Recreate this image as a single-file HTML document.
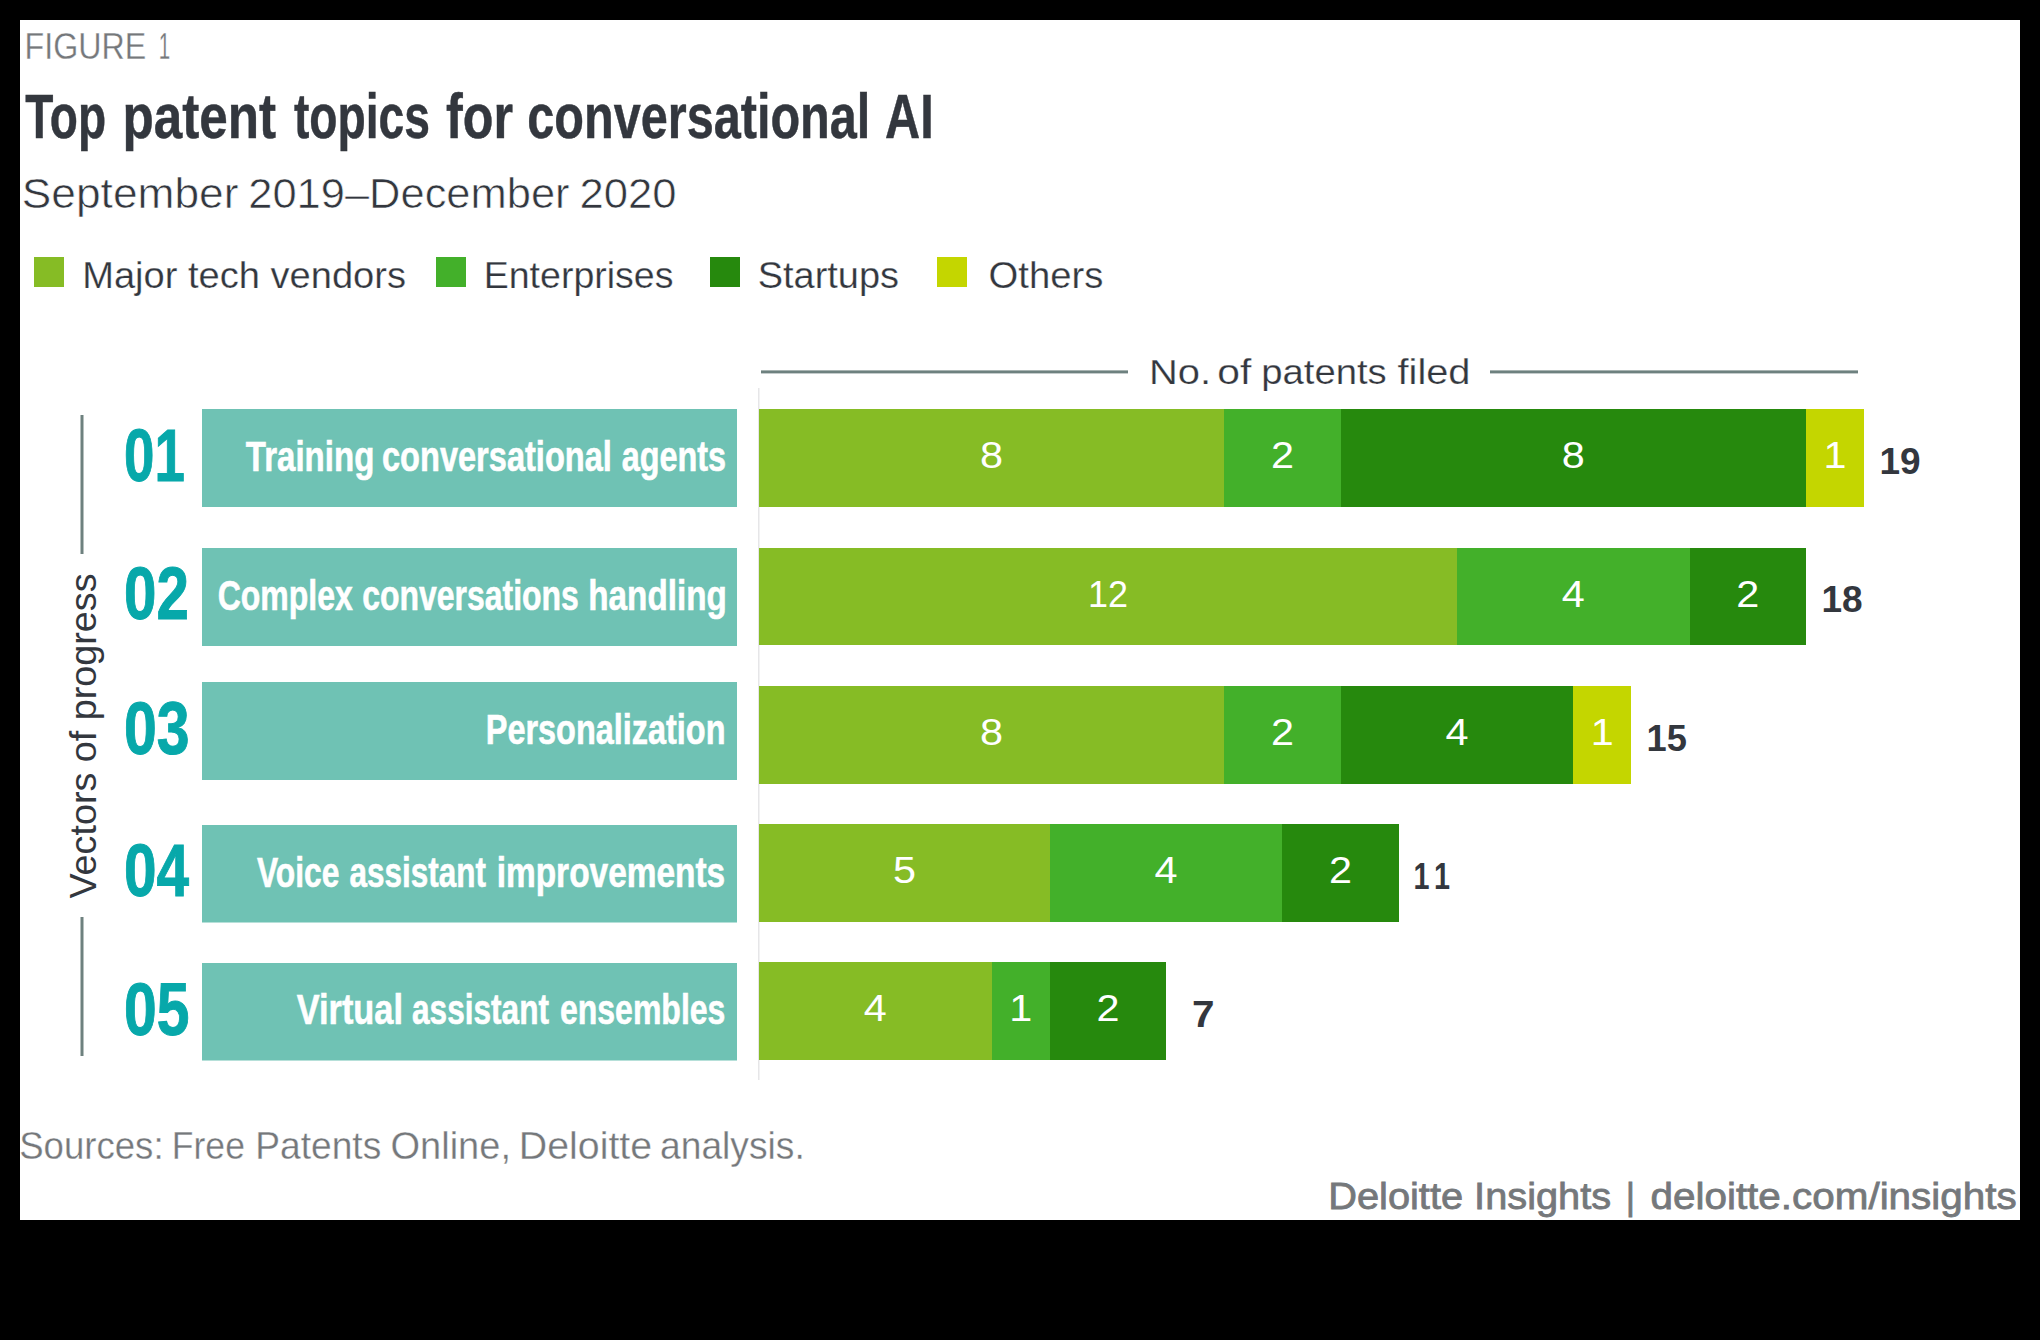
<!DOCTYPE html><html><head><meta charset="utf-8"><style>html,body{margin:0;padding:0;background:#000;width:2040px;height:1340px;overflow:hidden}svg{display:block}text{font-family:"Liberation Sans",sans-serif}</style></head><body>
<svg width="2040" height="1340" viewBox="0 0 2040 1340">
<rect x="0" y="0" width="2040" height="1340" fill="#000"/>
<rect x="20" y="20" width="2000" height="1200" fill="#fff"/>
<rect x="34" y="257" width="30" height="30" fill="#86BC25"/>
<text x="82.2" y="288" font-size="37.8" font-weight="normal" fill="#33373E" text-anchor="start" textLength="323.8" lengthAdjust="spacingAndGlyphs" stroke="#fff" stroke-width="0.25">Major tech vendors</text>
<rect x="436" y="257" width="30" height="30" fill="#43B02A"/>
<text x="483.7" y="288" font-size="37.8" font-weight="normal" fill="#33373E" text-anchor="start" textLength="189.8" lengthAdjust="spacingAndGlyphs" stroke="#fff" stroke-width="0.25">Enterprises</text>
<rect x="710" y="257" width="30" height="30" fill="#26890D"/>
<text x="757.7" y="288" font-size="37.8" font-weight="normal" fill="#33373E" text-anchor="start" textLength="141.3" lengthAdjust="spacingAndGlyphs" stroke="#fff" stroke-width="0.25">Startups</text>
<rect x="937" y="257" width="30" height="30" fill="#C4D600"/>
<text x="988.6" y="288" font-size="37.8" font-weight="normal" fill="#33373E" text-anchor="start" textLength="114.8" lengthAdjust="spacingAndGlyphs" stroke="#fff" stroke-width="0.25">Others</text>
<rect x="761" y="370.4" width="367" height="3" fill="#6E817F"/>
<rect x="1490" y="370.4" width="368" height="3" fill="#6E817F"/>
<rect x="758" y="388" width="1.5" height="692" fill="#e6e6e8"/>
<rect x="80.5" y="415" width="3" height="139" fill="#6E817F"/>
<rect x="80.5" y="917" width="3" height="139" fill="#6E817F"/>
<text transform="translate(96.2,898.5) rotate(-90)" x="0" y="0" font-size="37.8" fill="#33373E"  textLength="325" lengthAdjust="spacingAndGlyphs">Vectors of progress</text>
<rect x="202" y="409" width="535" height="98" fill="#6FC2B4"/>
<text x="124" y="481.0" font-size="75" font-weight="bold" fill="#07A8AA" text-anchor="start" textLength="60.8" lengthAdjust="spacingAndGlyphs" stroke="#07A8AA" stroke-width="1">01</text>
<rect x="759" y="409" width="465" height="98" fill="#86BC25"/>
<text x="991.64" y="468.00" font-size="37" font-weight="normal" fill="#fff" text-anchor="middle" textLength="23" lengthAdjust="spacingAndGlyphs" >8</text>
<rect x="1224" y="409" width="117" height="98" fill="#43B02A"/>
<text x="1282.44" y="468.00" font-size="37" font-weight="normal" fill="#fff" text-anchor="middle" textLength="23" lengthAdjust="spacingAndGlyphs" >2</text>
<rect x="1341" y="409" width="465" height="98" fill="#26890D"/>
<text x="1573.24" y="468.00" font-size="37" font-weight="normal" fill="#fff" text-anchor="middle" textLength="23" lengthAdjust="spacingAndGlyphs" >8</text>
<rect x="1806" y="409" width="58" height="98" fill="#C4D600"/>
<text x="1834.96" y="468.00" font-size="37" font-weight="normal" fill="#fff" text-anchor="middle" textLength="23" lengthAdjust="spacingAndGlyphs" >1</text>
<text x="1879.50" y="473.60" font-size="37" font-weight="bold" fill="#33373E" text-anchor="start" >19</text>
<rect x="202" y="548" width="535" height="98" fill="#6FC2B4"/>
<text x="124" y="619.0" font-size="75" font-weight="bold" fill="#07A8AA" text-anchor="start" textLength="64.9" lengthAdjust="spacingAndGlyphs" stroke="#07A8AA" stroke-width="1">02</text>
<rect x="759" y="548" width="698" height="97" fill="#86BC25"/>
<text x="1107.96" y="606.50" font-size="37" font-weight="normal" fill="#fff" text-anchor="middle" textLength="40" lengthAdjust="spacingAndGlyphs" >12</text>
<rect x="1457" y="548" width="233" height="97" fill="#43B02A"/>
<text x="1573.24" y="606.50" font-size="37" font-weight="normal" fill="#fff" text-anchor="middle" textLength="23" lengthAdjust="spacingAndGlyphs" >4</text>
<rect x="1690" y="548" width="116" height="97" fill="#26890D"/>
<text x="1747.72" y="606.50" font-size="37" font-weight="normal" fill="#fff" text-anchor="middle" textLength="23" lengthAdjust="spacingAndGlyphs" >2</text>
<text x="1821.50" y="612.10" font-size="37" font-weight="bold" fill="#33373E" text-anchor="start" >18</text>
<rect x="202" y="682" width="535" height="98" fill="#6FC2B4"/>
<text x="124" y="754.3" font-size="75" font-weight="bold" fill="#07A8AA" text-anchor="start" textLength="65.6" lengthAdjust="spacingAndGlyphs" stroke="#07A8AA" stroke-width="1">03</text>
<rect x="759" y="686" width="465" height="98" fill="#86BC25"/>
<text x="991.64" y="745.00" font-size="37" font-weight="normal" fill="#fff" text-anchor="middle" textLength="23" lengthAdjust="spacingAndGlyphs" >8</text>
<rect x="1224" y="686" width="117" height="98" fill="#43B02A"/>
<text x="1282.44" y="745.00" font-size="37" font-weight="normal" fill="#fff" text-anchor="middle" textLength="23" lengthAdjust="spacingAndGlyphs" >2</text>
<rect x="1341" y="686" width="232" height="98" fill="#26890D"/>
<text x="1456.92" y="745.00" font-size="37" font-weight="normal" fill="#fff" text-anchor="middle" textLength="23" lengthAdjust="spacingAndGlyphs" >4</text>
<rect x="1573" y="686" width="58" height="98" fill="#C4D600"/>
<text x="1602.32" y="745.00" font-size="37" font-weight="normal" fill="#fff" text-anchor="middle" textLength="23" lengthAdjust="spacingAndGlyphs" >1</text>
<text x="1646.50" y="750.60" font-size="37" font-weight="bold" fill="#33373E" text-anchor="start" textLength="40.3" lengthAdjust="spacingAndGlyphs" >15</text>
<rect x="202" y="825" width="535" height="97.5" fill="#6FC2B4"/>
<text x="124" y="896.4" font-size="75" font-weight="bold" fill="#07A8AA" text-anchor="start" textLength="65.1" lengthAdjust="spacingAndGlyphs" stroke="#07A8AA" stroke-width="1">04</text>
<rect x="759" y="824" width="291" height="98" fill="#86BC25"/>
<text x="904.40" y="883.00" font-size="37" font-weight="normal" fill="#fff" text-anchor="middle" textLength="23" lengthAdjust="spacingAndGlyphs" >5</text>
<rect x="1050" y="824" width="232" height="98" fill="#43B02A"/>
<text x="1166.12" y="883.00" font-size="37" font-weight="normal" fill="#fff" text-anchor="middle" textLength="23" lengthAdjust="spacingAndGlyphs" >4</text>
<rect x="1282" y="824" width="117" height="98" fill="#26890D"/>
<text x="1340.60" y="883.00" font-size="37" font-weight="normal" fill="#fff" text-anchor="middle" textLength="23" lengthAdjust="spacingAndGlyphs" >2</text>
<text x="1413.40" y="888.60" font-size="37" font-weight="bold" fill="#33373E" text-anchor="start" textLength="16" lengthAdjust="spacingAndGlyphs" >1</text>
<text x="1433.90" y="888.60" font-size="37" font-weight="bold" fill="#33373E" text-anchor="start" textLength="16" lengthAdjust="spacingAndGlyphs" >1</text>
<rect x="202" y="963" width="535" height="97.5" fill="#6FC2B4"/>
<text x="124" y="1034.7" font-size="75" font-weight="bold" fill="#07A8AA" text-anchor="start" textLength="65.4" lengthAdjust="spacingAndGlyphs" stroke="#07A8AA" stroke-width="1">05</text>
<rect x="759" y="962" width="233" height="98" fill="#86BC25"/>
<text x="875.32" y="1021.00" font-size="37" font-weight="normal" fill="#fff" text-anchor="middle" textLength="23" lengthAdjust="spacingAndGlyphs" >4</text>
<rect x="992" y="962" width="58" height="98" fill="#43B02A"/>
<text x="1020.72" y="1021.00" font-size="37" font-weight="normal" fill="#fff" text-anchor="middle" textLength="23" lengthAdjust="spacingAndGlyphs" >1</text>
<rect x="1050" y="962" width="116" height="98" fill="#26890D"/>
<text x="1107.96" y="1021.00" font-size="37" font-weight="normal" fill="#fff" text-anchor="middle" textLength="23" lengthAdjust="spacingAndGlyphs" >2</text>
<text x="1192.00" y="1026.60" font-size="37" font-weight="bold" fill="#33373E" text-anchor="start" textLength="22.5" lengthAdjust="spacingAndGlyphs" >7</text>
<text x="25.18" y="138" font-size="63" font-weight="bold" fill="#33373E" text-anchor="start" textLength="80.90" lengthAdjust="spacingAndGlyphs" stroke="#33373E" stroke-width="0.5">Top</text>
<text x="122.52" y="138" font-size="63" font-weight="bold" fill="#33373E" text-anchor="start" textLength="153.48" lengthAdjust="spacingAndGlyphs" stroke="#33373E" stroke-width="0.5">patent</text>
<text x="293.90" y="138" font-size="63" font-weight="bold" fill="#33373E" text-anchor="start" textLength="136.10" lengthAdjust="spacingAndGlyphs" stroke="#33373E" stroke-width="0.5">topics</text>
<text x="446.10" y="138" font-size="63" font-weight="bold" fill="#33373E" text-anchor="start" textLength="66.98" lengthAdjust="spacingAndGlyphs" stroke="#33373E" stroke-width="0.5">for</text>
<text x="527.26" y="138" font-size="63" font-weight="bold" fill="#33373E" text-anchor="start" textLength="343.08" lengthAdjust="spacingAndGlyphs" stroke="#33373E" stroke-width="0.5">conversational</text>
<text x="885.00" y="138" font-size="63" font-weight="bold" fill="#33373E" text-anchor="start" textLength="48.66" lengthAdjust="spacingAndGlyphs" stroke="#33373E" stroke-width="0.5">AI</text>
<text x="21.76" y="207.9" font-size="43.0" font-weight="normal" fill="#33373E" text-anchor="start" textLength="216.74" lengthAdjust="spacingAndGlyphs" stroke="#fff" stroke-width="0.6">September</text>
<text x="248.24" y="207.9" font-size="43.0" font-weight="normal" fill="#33373E" text-anchor="start" textLength="321.34" lengthAdjust="spacingAndGlyphs" stroke="#fff" stroke-width="0.6">2019–December</text>
<text x="579.42" y="207.9" font-size="43.0" font-weight="normal" fill="#33373E" text-anchor="start" textLength="97.08" lengthAdjust="spacingAndGlyphs" stroke="#fff" stroke-width="0.6">2020</text>
<text x="1148.90" y="383.9" font-size="35.7" font-weight="normal" fill="#33373E" text-anchor="start" textLength="62.10" lengthAdjust="spacingAndGlyphs" stroke="#fff" stroke-width="0.25">No.</text>
<text x="1217.32" y="383.9" font-size="35.7" font-weight="normal" fill="#33373E" text-anchor="start" textLength="34.02" lengthAdjust="spacingAndGlyphs" stroke="#fff" stroke-width="0.25">of</text>
<text x="1261.26" y="383.9" font-size="35.7" font-weight="normal" fill="#33373E" text-anchor="start" textLength="125.50" lengthAdjust="spacingAndGlyphs" stroke="#fff" stroke-width="0.25">patents</text>
<text x="1397.50" y="383.9" font-size="35.7" font-weight="normal" fill="#33373E" text-anchor="start" textLength="73.00" lengthAdjust="spacingAndGlyphs" stroke="#fff" stroke-width="0.25">filed</text>
<text x="19.22" y="1159.3" font-size="38.5" font-weight="normal" fill="#75787B" text-anchor="start" textLength="144.36" lengthAdjust="spacingAndGlyphs" stroke="#fff" stroke-width="0.3">Sources:</text>
<text x="171.84" y="1159.3" font-size="38.5" font-weight="normal" fill="#75787B" text-anchor="start" textLength="73.08" lengthAdjust="spacingAndGlyphs" stroke="#fff" stroke-width="0.3">Free</text>
<text x="255.18" y="1159.3" font-size="38.5" font-weight="normal" fill="#75787B" text-anchor="start" textLength="126.08" lengthAdjust="spacingAndGlyphs" stroke="#fff" stroke-width="0.3">Patents</text>
<text x="390.50" y="1159.3" font-size="38.5" font-weight="normal" fill="#75787B" text-anchor="start" textLength="120.50" lengthAdjust="spacingAndGlyphs" stroke="#fff" stroke-width="0.3">Online,</text>
<text x="518.84" y="1159.3" font-size="38.5" font-weight="normal" fill="#75787B" text-anchor="start" textLength="133.32" lengthAdjust="spacingAndGlyphs" stroke="#fff" stroke-width="0.3">Deloitte</text>
<text x="660.00" y="1159.3" font-size="38.5" font-weight="normal" fill="#75787B" text-anchor="start" textLength="144.76" lengthAdjust="spacingAndGlyphs" stroke="#fff" stroke-width="0.3">analysis.</text>
<text x="1328.24" y="1209" font-size="37.2" font-weight="normal" fill="#75787B" text-anchor="start" textLength="282.92" lengthAdjust="spacingAndGlyphs" stroke="#75787B" stroke-width="0.8">Deloitte Insights</text>
<text x="1625.76" y="1209" font-size="37.2" font-weight="normal" fill="#75787B" text-anchor="start" textLength="9.30" lengthAdjust="spacingAndGlyphs" stroke="#75787B" stroke-width="0.8">|</text>
<text x="1650.50" y="1209" font-size="37.2" font-weight="normal" fill="#75787B" text-anchor="start" textLength="366.16" lengthAdjust="spacingAndGlyphs" stroke="#75787B" stroke-width="0.8">deloitte.com/insights</text>
<text x="245.86" y="471.25" font-size="41.8" font-weight="bold" fill="#fff" text-anchor="start" textLength="128.46" lengthAdjust="spacingAndGlyphs" stroke="#fff" stroke-width="0.6">Training</text>
<text x="382.00" y="471.25" font-size="41.8" font-weight="bold" fill="#fff" text-anchor="start" textLength="229.82" lengthAdjust="spacingAndGlyphs" stroke="#fff" stroke-width="0.6">conversational</text>
<text x="621.64" y="471.25" font-size="41.8" font-weight="bold" fill="#fff" text-anchor="start" textLength="104.46" lengthAdjust="spacingAndGlyphs" stroke="#fff" stroke-width="0.6">agents</text>
<text x="217.68" y="610.3" font-size="41.8" font-weight="bold" fill="#fff" text-anchor="start" textLength="135.10" lengthAdjust="spacingAndGlyphs" stroke="#fff" stroke-width="0.6">Complex</text>
<text x="362.28" y="610.3" font-size="41.8" font-weight="bold" fill="#fff" text-anchor="start" textLength="216.58" lengthAdjust="spacingAndGlyphs" stroke="#fff" stroke-width="0.6">conversations</text>
<text x="588.32" y="610.3" font-size="41.8" font-weight="bold" fill="#fff" text-anchor="start" textLength="138.50" lengthAdjust="spacingAndGlyphs" stroke="#fff" stroke-width="0.6">handling</text>
<text x="485.78" y="744.2" font-size="41.8" font-weight="bold" fill="#fff" text-anchor="start" textLength="239.72" lengthAdjust="spacingAndGlyphs" stroke="#fff" stroke-width="0.6">Personalization</text>
<text x="257.00" y="886.5" font-size="41.8" font-weight="bold" fill="#fff" text-anchor="start" textLength="82.36" lengthAdjust="spacingAndGlyphs" stroke="#fff" stroke-width="0.6">Voice</text>
<text x="349.50" y="886.5" font-size="41.8" font-weight="bold" fill="#fff" text-anchor="start" textLength="136.50" lengthAdjust="spacingAndGlyphs" stroke="#fff" stroke-width="0.6">assistant</text>
<text x="496.68" y="886.5" font-size="41.8" font-weight="bold" fill="#fff" text-anchor="start" textLength="228.54" lengthAdjust="spacingAndGlyphs" stroke="#fff" stroke-width="0.6">improvements</text>
<text x="296.78" y="1024.1" font-size="41.8" font-weight="bold" fill="#fff" text-anchor="start" textLength="106.18" lengthAdjust="spacingAndGlyphs" stroke="#fff" stroke-width="0.6">Virtual</text>
<text x="412.00" y="1024.1" font-size="41.8" font-weight="bold" fill="#fff" text-anchor="start" textLength="136.96" lengthAdjust="spacingAndGlyphs" stroke="#fff" stroke-width="0.6">assistant</text>
<text x="560.00" y="1024.1" font-size="41.8" font-weight="bold" fill="#fff" text-anchor="start" textLength="165.36" lengthAdjust="spacingAndGlyphs" stroke="#fff" stroke-width="0.6">ensembles</text>
<text x="24.62" y="58.9" font-size="36.3" font-weight="normal" fill="#75787B" text-anchor="start" textLength="121.64" lengthAdjust="spacingAndGlyphs" stroke="#fff" stroke-width="0.3">FIGURE</text>
<text x="158.74" y="58.9" font-size="36.3" font-weight="normal" fill="#75787B" text-anchor="start" textLength="11.42" lengthAdjust="spacingAndGlyphs" stroke="#fff" stroke-width="0.3">1</text>
</svg></body></html>
